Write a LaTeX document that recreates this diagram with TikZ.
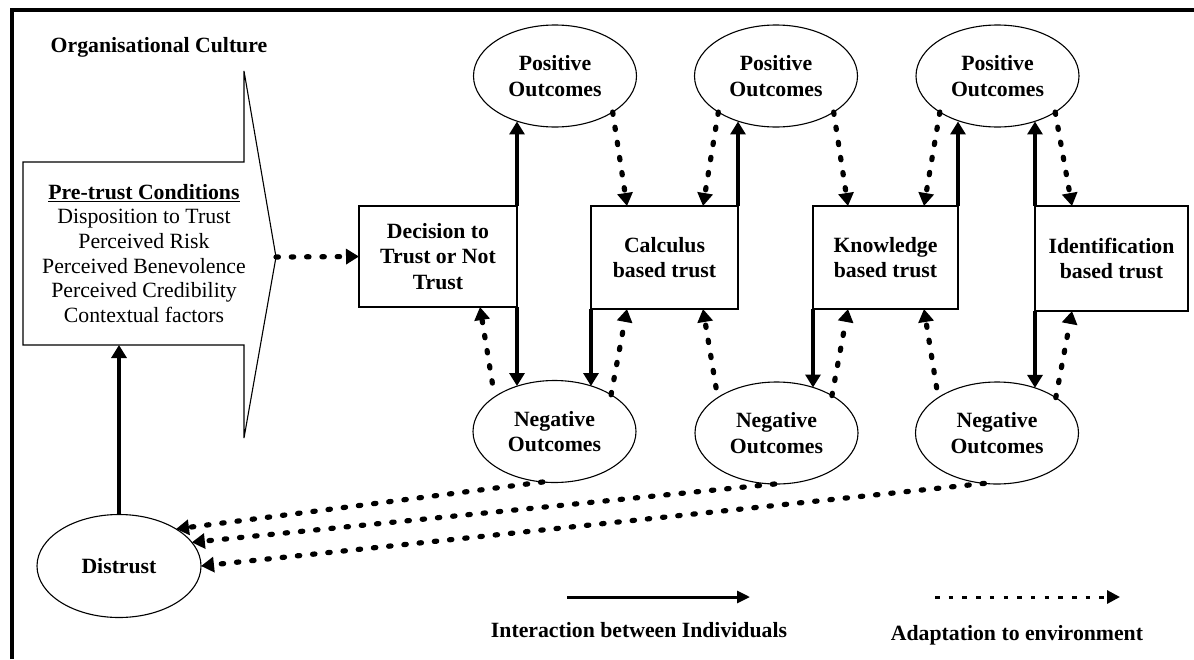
\documentclass[tikz,border=0pt]{standalone}
\usepackage{fontspec}
\setmainfont{Liberation Serif}
\usetikzlibrary{arrows.meta,shapes.geometric}
\begin{document}
\begin{tikzpicture}[x=1pt,y=-1pt,
  lbl/.style={font=\bfseries\fontsize{21.75pt}{25.5pt}\selectfont, align=center, inner sep=0pt, outer sep=0pt},
  oval/.style={lbl, draw, ellipse, line width=1.1pt, minimum width=163pt, minimum height=102pt},
  boxnode/.style={lbl, draw, rectangle, line width=1.1pt},
  solidarr/.style={line width=4pt, -{Triangle[width=15pt,length=13pt]}},
  dotarr/.style={line width=5.2pt, line cap=round, dash pattern=on 2.4pt off 12.9pt, -{Triangle[width=15pt,length=13pt]}},
  legsolid/.style={line width=3pt, -{Triangle[width=12pt,length=13pt]}},
  legdot/.style={line width=3pt, dash pattern=on 4.5pt off 9.2pt, -{Triangle[width=13pt,length=13pt]}},
]
\useasboundingbox[fill=white] (0,0) rectangle (1194,659);
% frame
\draw[line width=4pt] (11.5,659) -- (11.5,9.5) -- (1194,9.5);

% callout
\node[inner sep=0pt, outer sep=0pt, minimum width=221pt, minimum height=183pt] (pre) at (133.5,253.5) {};
\coordinate (ctop) at (244,71);
\coordinate (cbot) at (244,438);
\coordinate (tip) at (276,257);
\draw[line width=1.1pt, line join=miter] (pre.north west) -- (pre.north east) -- (ctop) -- (tip) -- (cbot) -- (pre.south east) -- (pre.south west) -- cycle;
\node[lbl] (orgc) at (159,47) {Organisational Culture};
\node[lbl, font=\fontsize{21.75pt}{24.7pt}\selectfont] (ptext) at (144,253.5)
  {\textbf{\underline{Pre-trust Conditions}}\\Disposition to Trust\\Perceived Risk\\Perceived Benevolence\\Perceived Credibility\\Contextual factors};

% boxes
\node[boxnode, minimum width=158pt, minimum height=101pt] (dec) at (438,256.5) {Decision to\\Trust or Not\\Trust};
\node[boxnode, minimum width=147pt, minimum height=103pt] (calc) at (664.5,257.5) {Calculus\\based trust};
\node[boxnode, minimum width=145pt, minimum height=103pt] (know) at (885.5,257.5) {Knowledge\\based trust};
\node[boxnode, minimum width=153pt, minimum height=105pt] (ident) at (1111.5,258.5) {Identification\\based trust};

% ellipses
\node[oval] (pos1) at (555,76) {Positive\\Outcomes};
\node[oval] (pos2) at (776,76) {Positive\\Outcomes};
\node[oval] (pos3) at (997.5,76) {Positive\\Outcomes};
\node[oval] (neg1) at (554.5,431.5) {Negative\\Outcomes};
\node[oval] (neg2) at (776.5,433) {Negative\\Outcomes};
\node[oval] (neg3) at (997,433) {Negative\\Outcomes};
\node[oval, minimum width=164pt, minimum height=103pt] (dist) at (119,566) {Distrust};

% solid arrows
\draw[solidarr] (dec.north east) -- (dec.north east |- pos1.231);
\draw[solidarr] (calc.north east) -- (calc.north east |- pos2.231);
\draw[solidarr] (know.north east) -- (know.north east |- pos3.231);
\draw[solidarr] (ident.north west) -- (ident.north west |- pos3.309);
\draw[solidarr] (dec.south east) -- (dec.south east |- neg1.129);
\draw[solidarr] (calc.south west) -- (calc.south west |- neg1.51);
\draw[solidarr] (know.south west) -- (know.south west |- neg2.51);
\draw[solidarr] (ident.south west) -- (ident.south west |- neg3.50);
\draw[solidarr] (dist.north) -- (dist.north |- pre.south);

% dotted arrows
\draw[dotarr] (tip) -- (dec.west);
\draw[dotarr] (pos1.328) -- ([xshift=-37.5pt]calc.north);
\draw[dotarr] (pos2.212) -- ([xshift=38.5pt]calc.north);
\draw[dotarr] (pos2.328) -- ([xshift=-37.5pt]know.north);
\draw[dotarr] (pos3.212) -- ([xshift=38.5pt]know.north);
\draw[dotarr] (pos3.328) -- ([xshift=-39.5pt]ident.north);
\draw[dotarr, shorten <=14pt] (neg1.150) -- ([xshift=42pt]dec.south);
\draw[dotarr] (neg1.33) -- ([xshift=-37.5pt]calc.south);
\draw[dotarr, shorten <=10pt] (neg2.149) -- ([xshift=38.5pt]calc.south);
\draw[dotarr] (neg2.34) -- ([xshift=-37.5pt]know.south);
\draw[dotarr, shorten <=10pt] (neg3.149) -- ([xshift=38.5pt]know.south);
\draw[dotarr] (neg3.31) -- ([xshift=-39.5pt]ident.south);
\draw[dotarr] (neg1.257) -- (dist.33);
\draw[dotarr] (neg2.268) -- (dist.18);
\draw[dotarr] (neg3.256) -- (dist.0);

% legend
\coordinate (l1a) at (567,597);
\coordinate (l1b) at (750,597);
\coordinate (l2a) at (935,597);
\coordinate (l2b) at (1120,597);
\draw[legsolid] (l1a) -- (l1b);
\draw[legdot] (l2a) -- (l2b);
\node[lbl] (leg1) at (639,630) {Interaction between Individuals};
\node[lbl] (leg2) at (1017,635) {Adaptation to environment};
\end{tikzpicture}
\end{document}
